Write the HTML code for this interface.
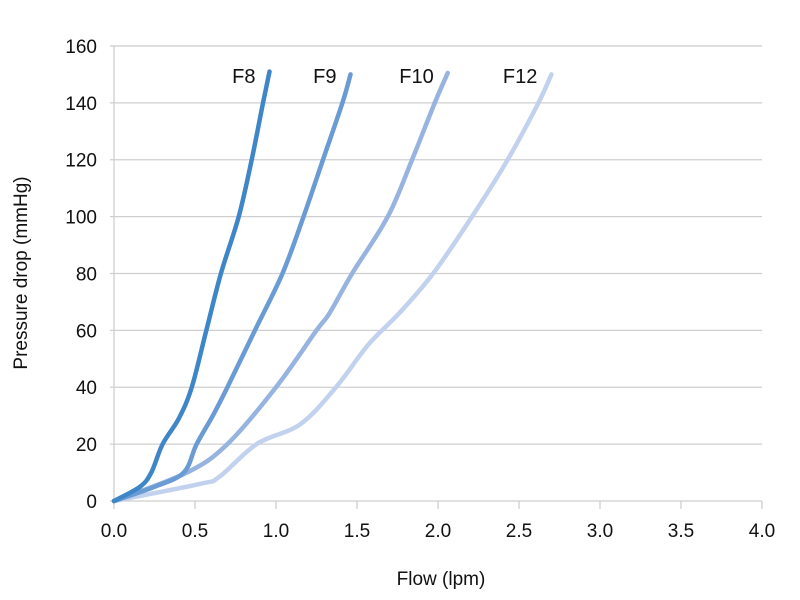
<!DOCTYPE html>
<html><head><meta charset="utf-8"><style>
body{margin:0;background:#fff;}
svg{display:block;font-family:"Liberation Sans",sans-serif;}
</style></head><body>
<svg id="chart" width="800" height="600" viewBox="0 0 800 600">
<g id="grid"></g>
<g id="axes"></g>
<g id="series"></g>
<text x="441" y="585" font-size="19" text-anchor="middle" fill="#111">Flow (lpm)</text>
<text transform="translate(27,273) rotate(-90)" font-size="19" text-anchor="middle" fill="#111">Pressure drop (mmHg)</text>
</svg>
<script>
const xTicks=[0,0.5,1,1.5,2,2.5,3,3.5,4];
const xTickLabels=["0.0","0.5","1.0","1.5","2.0","2.5","3.0","3.5","4.0"];
const yTicks=[0,20,40,60,80,100,120,140,160];
const seriesNames=["F8","F9","F10","F12"];
const f8X=[0,0.16,0.23,0.30,0.40,0.48,0.57,0.66,0.77,0.85,0.92,0.96];
const f8Y=[0,5,10,20,29,40,60,80,100,120,140,151];
const f9X=[0,0.25,0.43,0.51,0.61,0.70,0.87,1.04,1.17,1.29,1.41,1.46];
const f9Y=[0,5,10,20,30,40,60,80,100,120,140,150];
const f10X=[0,0.45,0.70,1.0,1.25,1.33,1.47,1.69,1.84,1.98,2.06];
const f10Y=[0,10,20,40,60,66,80,100,120,140,150.5];
const f12X=[0,0.53,0.65,0.88,1.15,1.37,1.57,1.76,1.97,2.21,2.43,2.62,2.70];
const f12Y=[0,6,8.5,20,27,40,55,66,80,100,120,140,150];
const colors=["#3f86c8","#6a9bd4","#97b3e0","#c2d2ee"];
const NS="http://www.w3.org/2000/svg";
const sx=v=>114+162*v, sy=v=>501-2.844*v;
function mk(tag,attrs,parent){const e=document.createElementNS(NS,tag);for(const k in attrs)e.setAttribute(k,attrs[k]);parent.appendChild(e);return e;}
const grid=document.getElementById('grid'),axes=document.getElementById('axes'),ser=document.getElementById('series');
yTicks.forEach(t=>{
  if(t>0){const l=mk('line',{x1:110,x2:762,y1:sy(t),y2:sy(t),stroke:'#cfcfcf','stroke-width':1.3},grid);
  
  }
  const tx=mk('text',{x:97,y:sy(t)+7,'font-size':19,'text-anchor':'end',fill:'#111'},axes);
  tx.textContent=t;
  
  
});
const xa=mk('line',{x1:110,x2:762,y1:501,y2:501,stroke:'#cfcfcf','stroke-width':1.3},axes);


const ya=mk('line',{x1:114,x2:114,y1:46,y2:505,stroke:'#cfcfcf','stroke-width':1.3},axes);


xTicks.forEach((t,i)=>{
  const tk=mk('line',{x1:sx(t),x2:sx(t),y1:501,y2:509,stroke:'#cfcfcf','stroke-width':1.3},axes);
  
  
  const tx=mk('text',{x:sx(t),y:537,'font-size':19,'text-anchor':'middle',fill:'#111'},axes);
  tx.textContent=xTickLabels[i];
  
  
});
function pathFrom(X,Y){
  const p=X.map((x,i)=>[sx(x),sy(Y[i])]);
  let d=`M${p[0][0]},${p[0][1]}`;
  for(let i=0;i<p.length-1;i++){
    const p0=p[Math.max(0,i-1)],p1=p[i],p2=p[i+1],p3=p[Math.min(p.length-1,i+2)];
    const c1=[p1[0]+(p2[0]-p0[0])/6,p1[1]+(p2[1]-p0[1])/6];
    const c2=[p2[0]-(p3[0]-p1[0])/6,p2[1]-(p3[1]-p1[1])/6];
    d+=` C${c1[0]},${c1[1]} ${c2[0]},${c2[1]} ${p2[0]},${p2[1]}`;
  }
  return d;
}
const all=[[f8X,f8Y],[f9X,f9Y],[f10X,f10Y],[f12X,f12Y]];
for(let k=all.length-1;k>=0;k--){
  const [X,Y]=all[k];
  const pth=mk('path',{d:pathFrom(X,Y),fill:'none',stroke:colors[k],'stroke-width':4.5,'stroke-linecap':'round','stroke-linejoin':'round'},ser);
  
  
  const n=X.length-1;
  const lb=mk('text',{x:sx(X[n])-14,y:83,'font-size':20,'text-anchor':'end',fill:'#111'},ser);
  lb.textContent=seriesNames[k];
  
  
}
</script>
</body></html>
